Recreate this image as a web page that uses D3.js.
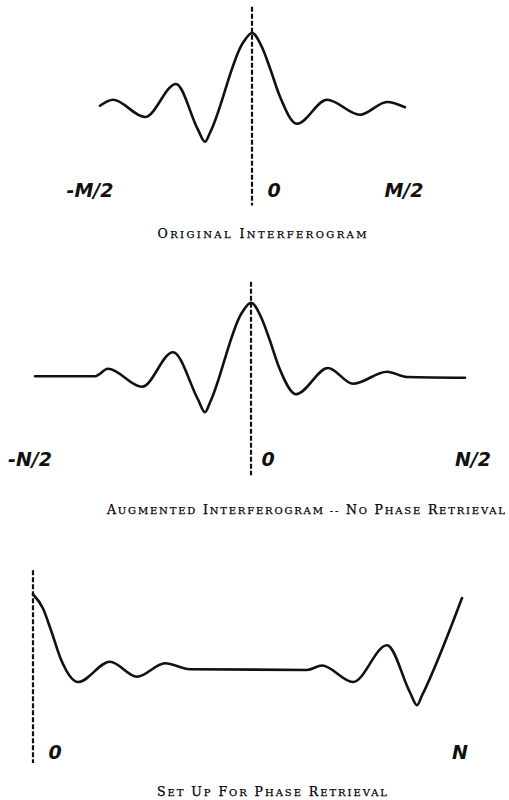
<!DOCTYPE html>
<html>
<head>
<meta charset="utf-8">
<script src="https://cdn.jsdelivr.net/npm/d3@7"></script>
<style>
  body { margin: 0; background: #fff; }
  svg { display: block; }
  .hand { font-family: "DejaVu Sans", sans-serif; font-style: italic; font-weight: bold; font-size: 19px; }
  .caption { font-family: "DejaVu Serif", serif; fill: #000; stroke: #000; stroke-width: 0.25; }
</style>
</head>
<body>
<svg id="chart" width="509" height="800"></svg>
<script>
// Interferogram samples (x in samples from the marked origin, y relative to the peak)
var originalX = [-152, -139, -107, -76, -54, -47, -42, -9, 0, 10, 18, 28, 45, 75, 108, 135, 153];
var originalY = [0.03, 0.11, -0.12, 0.32, -0.29, -0.45, -0.33, 0.87, 1.0, 0.81, 0.53, 0.15, -0.21, 0.11, -0.09, 0.08, 0.01];

var augmentedX = [-216, -156, -143, -109, -78, -53, -46, -41, -9, 0, 10, 18, 28, 45, 77, 102, 136, 156, 214];
var augmentedY = [0.01, 0.01, 0.11, -0.13, 0.33, -0.30, -0.47, -0.34, 0.86, 0.99, 0.80, 0.52, 0.13, -0.23, 0.12, -0.09, 0.07, 0.0, -0.01];

var phaseX = [0, 10, 18, 28, 45, 77, 104, 132, 157, 274, 289, 320, 354, 377, 384, 389, 429];
var phaseY = [1.01, 0.82, 0.53, 0.14, -0.16, 0.11, -0.09, 0.09, 0.01, 0.0, 0.06, -0.16, 0.33, -0.30, -0.47, -0.34, 0.96];

// Tick values and their labels
var originalTicks = [-150, 0, 150];
var originalLabels = ["-M/2", "0", "M/2"];
var augmentedTicks = [-215, 0, 215];
var augmentedLabels = ["-N/2", "0", "N/2"];
var phaseTicks = [0, 430];
var phaseLabels = ["0", "N"];

var captions = [
  "ORIGINAL INTERFEROGRAM",
  "AUGMENTED INTERFEROGRAM -- NO PHASE RETRIEVAL",
  "SET UP FOR PHASE RETRIEVAL"
];

var svg = d3.select("#chart");
svg.append("rect").attr("width", 509).attr("height", 800).attr("fill", "#fff");

// one panel = curve + dashed origin line + hand lettered labels + caption
function drawPanel(p) {
  var x = d3.scaleLinear().domain(p.xDomain).range(p.xRange);
  var y = d3.scaleLinear().domain([0, 1]).range([p.baseline, p.baseline - 75]);

  var g = svg.append("g");

  // dashed line through the origin
  g.append("line")
    .attr("x1", x(0)).attr("x2", x(0))
    .attr("y1", y(p.dash[0])).attr("y2", y(p.dash[1]))
    .attr("stroke", "#111")
    .attr("stroke-width", 2.2)
    .attr("stroke-dasharray", "5,2");

  var pts = p.xs.map(function(v, i) { return [v, p.ys[i]]; });
  var line = d3.line()
    .x(function(d) { return x(d[0]); })
    .y(function(d) { return y(d[1]); })
    .curve(d3.curveMonotoneX);

  g.append("path")
    .datum(pts)
    .attr("d", line)
    .attr("fill", "none")
    .attr("stroke", "#111")
    .attr("stroke-width", 2.6)
    .attr("stroke-linejoin", "round")
    .attr("stroke-linecap", "round");

  g.selectAll(".hand")
    .data(p.ticks)
    .enter().append("text")
      .attr("class", "hand")
      .attr("x", function(d, i) { return x(d) + p.labelDx[i]; })
      .attr("y", y(-1.19))
      .attr("text-anchor", "middle")
      .attr("fill", "#111")
      .text(function(d, i) { return p.labels[i]; });

  // caption in caps, first letter of each word a bit larger
  var cap = g.append("text")
    .attr("class", "caption")
    .attr("x", p.capX)
    .attr("y", p.capY)
    .attr("text-anchor", "middle")
    .attr("textLength", p.capW)
    .attr("lengthAdjust", "spacing");
  p.caption.split(" ").forEach(function(word, i) {
    var w = (i > 0 ? " " : "");
    if (/^[A-Z]/.test(word)) {
      cap.append("tspan").attr("font-size", 12.5).text(w + word[0]);
      cap.append("tspan").attr("font-size", 10).text(word.slice(1));
    } else {
      cap.append("tspan").attr("font-size", 10).text(w + word);
    }
  });
}

drawPanel({
  xs: originalX, ys: originalY, xDomain: [-150, 150], xRange: [102, 402], baseline: 108,
  dash: [1.35, -1.3], ticks: originalTicks, labels: originalLabels, labelDx: [-12, 22, 2],
  caption: captions[0], capX: 262, capY: 238, capW: 209
});

drawPanel({
  xs: augmentedX, ys: augmentedY, xDomain: [-215, 215], xRange: [36, 466], baseline: 377,
  dash: [1.27, -1.31], ticks: augmentedTicks, labels: augmentedLabels, labelDx: [-6, 17, 7],
  caption: captions[1], capX: 306, capY: 514, capW: 398
});

drawPanel({
  xs: phaseX, ys: phaseY, xDomain: [0, 430], xRange: [33, 463], baseline: 670,
  dash: [1.33, -1.24], ticks: phaseTicks, labels: phaseLabels, labelDx: [22, -3],
  caption: captions[2], capX: 272, capY: 796, capW: 230
});
</script>
</body>
</html>
